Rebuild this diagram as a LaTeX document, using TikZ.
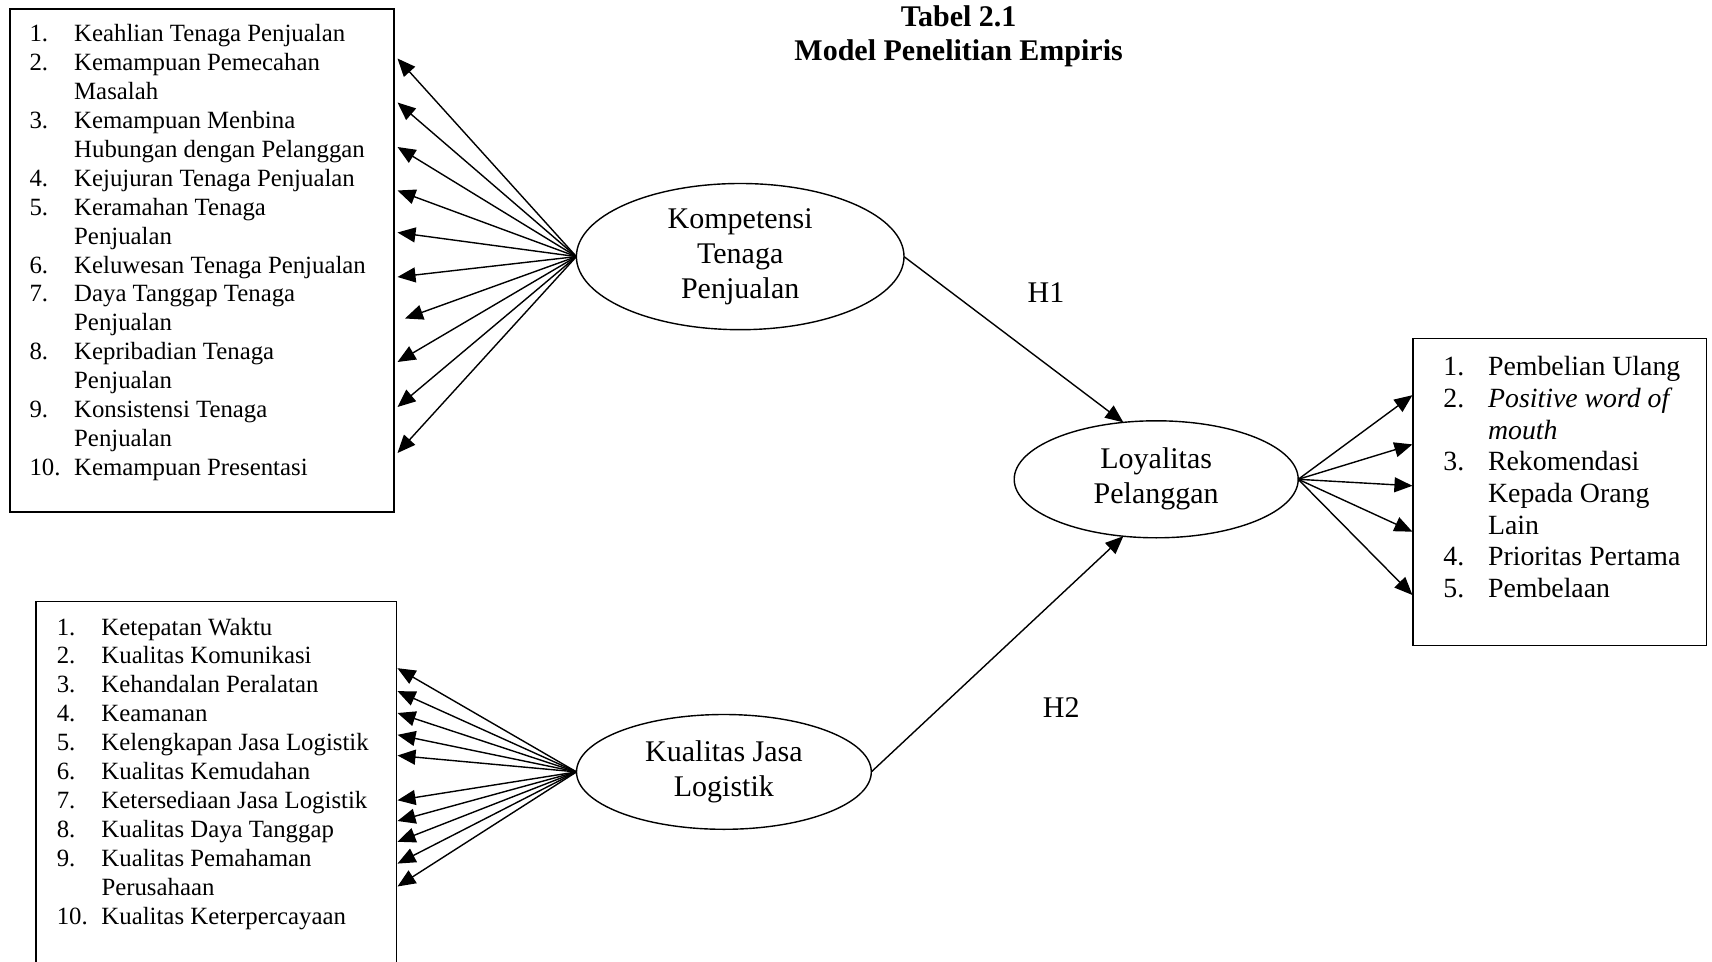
\documentclass[tikz,border=0pt]{standalone}
\usepackage{fontspec}
\setmainfont{Liberation Serif}
\usetikzlibrary{arrows.meta,shapes.geometric}

\newcommand{\listfont}{\fontsize{12.4}{14.47}\selectfont}
\newcommand{\bigfont}{\fontsize{15}{17.5}\selectfont}
\newcommand{\rightfont}{\fontsize{13.9}{15.83}\selectfont}

\begin{document}
\begin{tikzpicture}[x=0.5pt,y=-0.5pt,>={Triangle[length=9pt,width=7.5pt]},line width=0.7pt,
  every node/.style={inner sep=0pt,outer sep=0pt},
  latent/.style={ellipse,draw,align=center,font=\bigfont},
  indbox/.style={rectangle,draw,line width=0.8pt},
  items/.style={anchor=base west,font=\listfont}]
  \clip (0,0) rectangle (1712,962);
  \fill[white] (0,0) rectangle (1712,962);
  % title
  \node[font=\fontsize{15}{16.9}\selectfont\bfseries,align=center] (title) at (958.6,36.5) {Tabel 2.1\\Model Penelitian Empiris};
  % indicator boxes
  \node[indbox,minimum width=192.15pt,minimum height=251.65pt] (kbox) at (202,260.4) {};
  \node[indbox,minimum width=180.15pt,minimum height=186.7pt] (jbox) at (216.2,788.3) {};
  \node[indbox,minimum width=146.85pt,minimum height=153.4pt] (lbox) at (1559.7,491.9) {};
  \node[items] (kitems) at (29.5,41.5) {\begin{tabular}[t]{@{}p{22.35pt}@{}l@{}}
    1. & Keahlian Tenaga Penjualan\\
    2. & Kemampuan Pemecahan\\
       & Masalah\\
    3. & Kemampuan Menbina\\
       & Hubungan dengan Pelanggan\\
    4. & Kejujuran Tenaga Penjualan\\
    5. & Keramahan Tenaga\\
       & Penjualan\\
    6. & Keluwesan Tenaga Penjualan\\
    7. & Daya Tanggap Tenaga\\
       & Penjualan\\
    8. & Kepribadian Tenaga\\
       & Penjualan\\
    9. & Konsistensi Tenaga\\
       & Penjualan\\
    10. & Kemampuan Presentasi
  \end{tabular}};
  \node[items] (jitems) at (56.8,635) {\begin{tabular}[t]{@{}p{22.35pt}@{}l@{}}
    1. & Ketepatan Waktu\\
    2. & Kualitas Komunikasi\\
    3. & Kehandalan Peralatan\\
    4. & Keamanan\\
    5. & Kelengkapan Jasa Logistik\\
    6. & Kualitas Kemudahan\\
    7. & Ketersediaan Jasa Logistik\\
    8. & Kualitas Daya Tanggap\\
    9. & Kualitas Pemahaman\\
       & Perusahaan\\
    10. & Kualitas Keterpercayaan
  \end{tabular}};
  \node[items,font=\rightfont] (litems) at (1443.4,376) {\begin{tabular}[t]{@{}p{22.35pt}@{}l@{}}
    1. & Pembelian Ulang\\
    2. & \textit{Positive word of}\\
       & \textit{mouth}\\
    3. & Rekomendasi\\
       & Kepada Orang\\
       & Lain\\
    4. & Prioritas Pertama\\
    5. & Pembelaan
  \end{tabular}};
  % latent variables
  \node[latent,minimum width=163.8pt,minimum height=73.1pt] (KTP) at (740.2,256.6) {Kompetensi\\Tenaga\\Penjualan};
  \node[latent,minimum width=147.4pt,minimum height=57.4pt] (KJL) at (723.9,771.9) {Kualitas Jasa\\Logistik};
  \node[latent,minimum width=142pt,minimum height=58.5pt] (LP) at (1156.2,479.3) {Loyalitas\\Pelanggan};
  \node[font=\bigfont] (h1) at (1046,292.6) {H1};
  \node[font=\bigfont] (h2) at (1061.2,707.5) {H2};
  % indicators
  \foreach \x/\y [count=\i] in {397.5/58.5,397.5/102.5,397.5/147,397.5/190.5,397.5/232.5,
      397.5/277,405/318.5,397.5/362,397.5/407,397.5/453} {
    \coordinate (kt\i) at (\x,\y);
    \draw[->] (KTP.west) -- (kt\i);
  }
  \foreach \y [count=\i] in {668.2,691.1,713,734.8,755.5,800.3,821,841.8,863.6,886.5} {
    \coordinate (jl\i) at (397.5,\y);
    \draw[->] (KJL.west) -- (jl\i);
  }
  \foreach \y [count=\i] in {395.2,444.4,485.8,531.7,595} {
    \coordinate (lp\i) at (1412.4,\y);
    \draw[->] (LP.east) -- (lp\i);
  }
  % hypotheses
  \path (KTP.east) edge[->] (LP.120);
  \path (KJL.east) edge[->] (LP.240);
\end{tikzpicture}
\end{document}
